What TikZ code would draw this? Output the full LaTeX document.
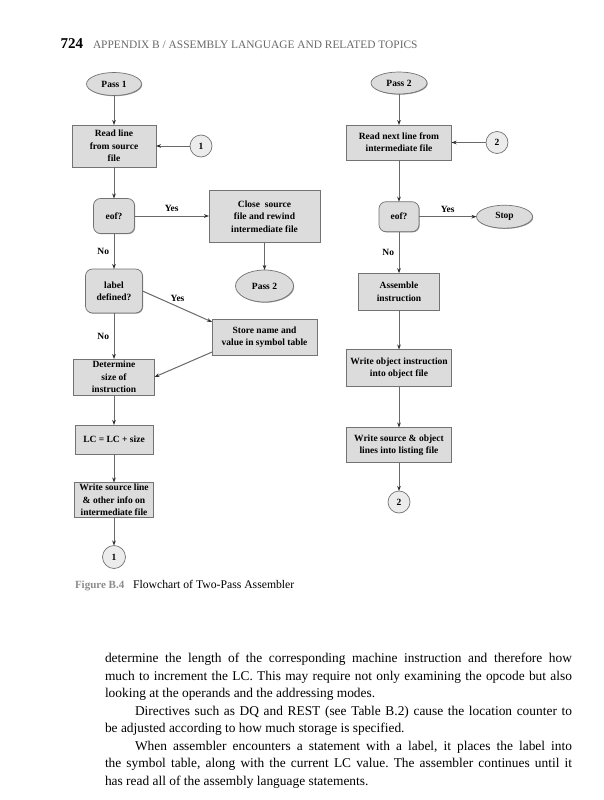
\documentclass[tikz,border=0pt]{standalone}
\usepackage{fontspec}
\setmainfont{Liberation Serif}
\usetikzlibrary{shapes.geometric,arrows.meta,calc,shadows}
\definecolor{boxfill}{RGB}{220,220,220}
\definecolor{circfill}{RGB}{236,236,236}
\definecolor{boxline}{RGB}{115,115,115}
\definecolor{conn}{RGB}{105,105,105}
\definecolor{tipcol}{RGB}{45,45,45}
\definecolor{hdrgray}{RGB}{105,105,105}
\definecolor{figgray}{RGB}{140,140,140}
\definecolor{shadecol}{RGB}{150,150,150}
\frenchspacing
\begin{document}
\begin{tikzpicture}[x=1pt,y=-1pt,
  every node/.style={inner sep=0pt, outer sep=0pt},
  lbltext/.style={font=\fontsize{9.5}{12.3}\selectfont\bfseries, align=center},
  softshadow/.style={drop shadow={shadow xshift=0.7pt, shadow yshift=-0.7pt, fill=shadecol, opacity=1}},
  procbox/.style n args={2}{lbltext, draw=boxline, fill=boxfill, line width=0.7pt, rectangle, softshadow, minimum width=#1 pt, minimum height=#2 pt},
  decbox/.style n args={2}{lbltext, draw=boxline, fill=boxfill, line width=0.7pt, rectangle, rounded corners=7pt, softshadow, minimum width=#1 pt, minimum height=#2 pt},
  termnode/.style n args={2}{lbltext, draw=boxline, fill=boxfill, line width=0.7pt, ellipse, softshadow, minimum width=#1 pt, minimum height=#2 pt},
  connnode/.style={lbltext, draw=boxline, fill=circfill, line width=0.7pt, circle, minimum size=22pt},
  flow/.style={draw=conn, line width=1pt, -{Stealth[length=5pt,width=3.6pt,color=tipcol]}},
  edgelbl/.style={font=\fontsize{9.5}{11}\selectfont\bfseries},
  bodyline/.style={anchor=base west, font=\fontsize{13.4}{17.5}\selectfont}
]
\useasboundingbox (0,0) rectangle (604,800);
\fill[white] (0,0) rectangle (604,800);

% header
\node[anchor=base east, font=\fontsize{15}{18}\selectfont\bfseries] (pgnum) at (83,48.5) {724};
\node[anchor=base west, font=\fontsize{11.4}{13}\selectfont, text=hdrgray] (runhead) at (93,48.5) {APPENDIX B / ASSEMBLY LANGUAGE AND RELATED TOPICS};

% left column: pass 1
\node[termnode={55}{23}] (p1) at (114,84) {Pass 1};
\node[procbox={84}{42}] (rl) at (114,146) {Read line\\from source\\file};
\node[connnode] (c1a) at (201,146) {1};
\node[decbox={41}{35}] (eof1) at (114,216) {eof?};
\node[procbox={111}{52}] (close) at (264.5,216.5) {Close\ \ source\\file and rewind\\intermediate file};
\node[termnode={58}{32}] (p2b) at (264.5,286) {Pass 2};
\node[decbox={57}{44}] (lbl) at (114,291) {label\\defined?};
\node[procbox={105}{36}] (store) at (264.5,337) {Store name and\\value in symbol table};
\node[procbox={81}{36}] (det) at (114,377) {Determine\\size of\\instruction};
\node[procbox={78}{29}] (lc) at (114,439.5) {LC = LC + size};
\node[procbox={79}{35}] (ws) at (114,500) {Write source line\\\& other info on\\intermediate file};
\node[connnode, minimum size=23pt] (c1b) at (114,557) {1};

% right column: pass 2
\node[termnode={56}{22}] (p2) at (399,83) {Pass 2};
\node[procbox={105}{35}] (rn) at (399,142.5) {Read next line from\\intermediate file};
\node[connnode] (c2a) at (497,142.5) {2};
\node[decbox={40}{30}] (eof2) at (399,216.7) {eof?};
\node[termnode={56}{23}] (stop) at (504.5,216.7) {Stop};
\node[procbox={81}{37}] (asm) at (399,291.7) {Assemble\\instruction};
\node[procbox={105}{37}] (wo) at (399,368) {Write object instruction\\into object file};
\node[procbox={105}{35}] (wsl) at (399,445) {Write source \& object\\lines into listing file};
\node[connnode] (c2b) at (399,502) {2};

% connectors pass 1
\draw[flow] (p1) -- (rl);
\draw[flow] (c1a) -- (rl);
\draw[flow] (rl) -- (eof1);
\draw[flow] (eof1.east) -- node[edgelbl, above=4pt] (y1) {Yes} (eof1.east -| close.west);
\draw[flow] (close) -- (p2b);
\draw[flow] (eof1) -- node[edgelbl, left=5pt, pos=0.5] (n1) {No} (lbl);
\draw[flow] (lbl.east) -- node[edgelbl, anchor=south west, pos=0.42, xshift=-1pt, yshift=2pt] (y2) {Yes} (store.164);
\draw[flow] (lbl) -- node[edgelbl, left=5pt, pos=0.5] (n2) {No} (det);
\draw[flow] (store.196) -- (det.east);
\draw[flow] (det) -- (lc);
\draw[flow] (lc) -- (ws);
\draw[flow] (ws) -- (c1b);

% connectors pass 2
\draw[flow] (p2) -- (rn);
\draw[flow] (c2a) -- (rn);
\draw[flow] (rn) -- (eof2);
\draw[flow] (eof2.east) -- node[edgelbl, above=4pt] (y3) {Yes} (eof2.east -| stop.west);
\draw[flow] (eof2) -- node[edgelbl, left=5pt, pos=0.5] (n3) {No} (asm);
\draw[flow] (asm) -- (wo);
\draw[flow] (wo) -- (wsl);
\draw[flow] (wsl) -- (c2b);

% caption
\node[anchor=base west, font=\fontsize{11}{13}\selectfont\bfseries, text=figgray] (figlbl) at (75,588.5) {Figure B.4};
\node[anchor=base west, font=\fontsize{11.7}{13}\selectfont] (figcap) at (133,588.5) {Flowchart of Two-Pass Assembler};

% body text
\node[bodyline] (t1) at (105,662.5) {\makebox[467pt][s]{determine the length of the corresponding machine instruction and therefore how}};
\node[bodyline] (t2) at (105,680) {\makebox[467pt][s]{much to increment the LC. This may require not only examining the opcode but also}};
\node[bodyline] (t3) at (105,697.5) {looking at the operands and the addressing modes.};
\node[bodyline] (t4) at (135,715) {\makebox[437pt][s]{Directives such as DQ and REST (see Table B.2) cause the location counter to}};
\node[bodyline] (t5) at (105,732.5) {be adjusted according to how much storage is specified.};
\node[bodyline] (t6) at (135,750) {\makebox[437pt][s]{When assembler encounters a statement with a label, it places the label into}};
\node[bodyline] (t7) at (105,767.5) {\makebox[467pt][s]{the symbol table, along with the current LC value. The assembler continues until it}};
\node[bodyline] (t8) at (105,785) {has read all of the assembly language statements.};
\end{tikzpicture}
\end{document}
